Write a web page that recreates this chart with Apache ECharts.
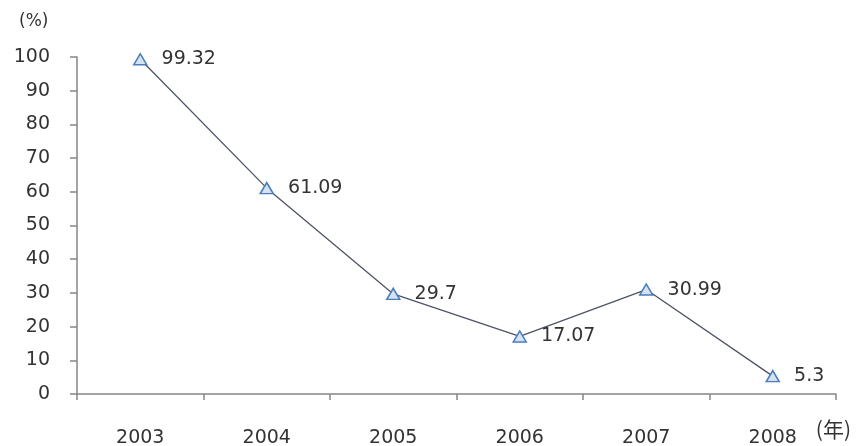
<!DOCTYPE html>
<html>
<head>
<meta charset="utf-8">
<script src="https://cdn.jsdelivr.net/npm/echarts@6/dist/echarts.min.js"></script>
<style>
  html, body { margin: 0; padding: 0; background: #fff; }
  #chart { width: 856px; height: 446px; }
</style>
</head>
<body>
<div id="chart"></div>
<script>
// Annual rate (%) by year
const years = ['2003', '2004', '2005', '2006', '2007', '2008'];
const rates = [99.32, 61.09, 29.7, 17.07, 30.99, 5.3];
const yTicks = { min: 0, max: 100, step: 10 };

const FONT = '"DejaVu Sans", sans-serif';
const chart = echarts.init(document.getElementById('chart'));

chart.setOption({
  backgroundColor: '#ffffff',
  animation: false,
  grid: { left: 77, right: 20, top: 57, bottom: 52, containLabel: false, outerBoundsMode: 'none' },
  xAxis: {
    type: 'category',
    data: years,
    boundaryGap: true,
    axisLine: { lineStyle: { color: '#868686', width: 1.5 } },
    axisTick: { show: true, length: 6, lineStyle: { color: '#868686', width: 1.5 } },
    axisLabel: { color: '#333', fontSize: 19, fontFamily: FONT, margin: 35 },
    splitLine: { show: false }
  },
  yAxis: {
    type: 'value',
    min: yTicks.min,
    max: yTicks.max,
    interval: yTicks.step,
    axisLine: { show: true, lineStyle: { color: '#868686', width: 1.5 } },
    axisTick: { show: true, length: 7, lineStyle: { color: '#868686', width: 1.5 } },
    axisLabel: { color: '#333', fontSize: 19, fontFamily: FONT, margin: 27 },
    splitLine: { show: false }
  },
  graphic: [
    { type: 'text', left: 19, top: 13, style: { text: '(%)', fill: '#333', font: '17px ' + FONT } },
    { type: 'text', right: 5, top: 419, style: { text: '(年)', fill: '#333', font: '21px "Noto Sans CJK SC", ' + FONT } }
  ],
  series: [{
    type: 'line',
    data: rates,
    symbol: 'triangle',
    symbolSize: [13, 11],
    itemStyle: { color: '#d6e2f2', borderColor: '#4a7ebb', borderWidth: 1.5 },
    lineStyle: { color: '#4d5563', width: 1.3 },
    label: {
      show: true,
      position: 'right',
      distance: 14,
      color: '#333',
      fontSize: 19,
      fontFamily: FONT,
      formatter: p => String(p.value)
    }
  }]
});
</script>
</body>
</html>
